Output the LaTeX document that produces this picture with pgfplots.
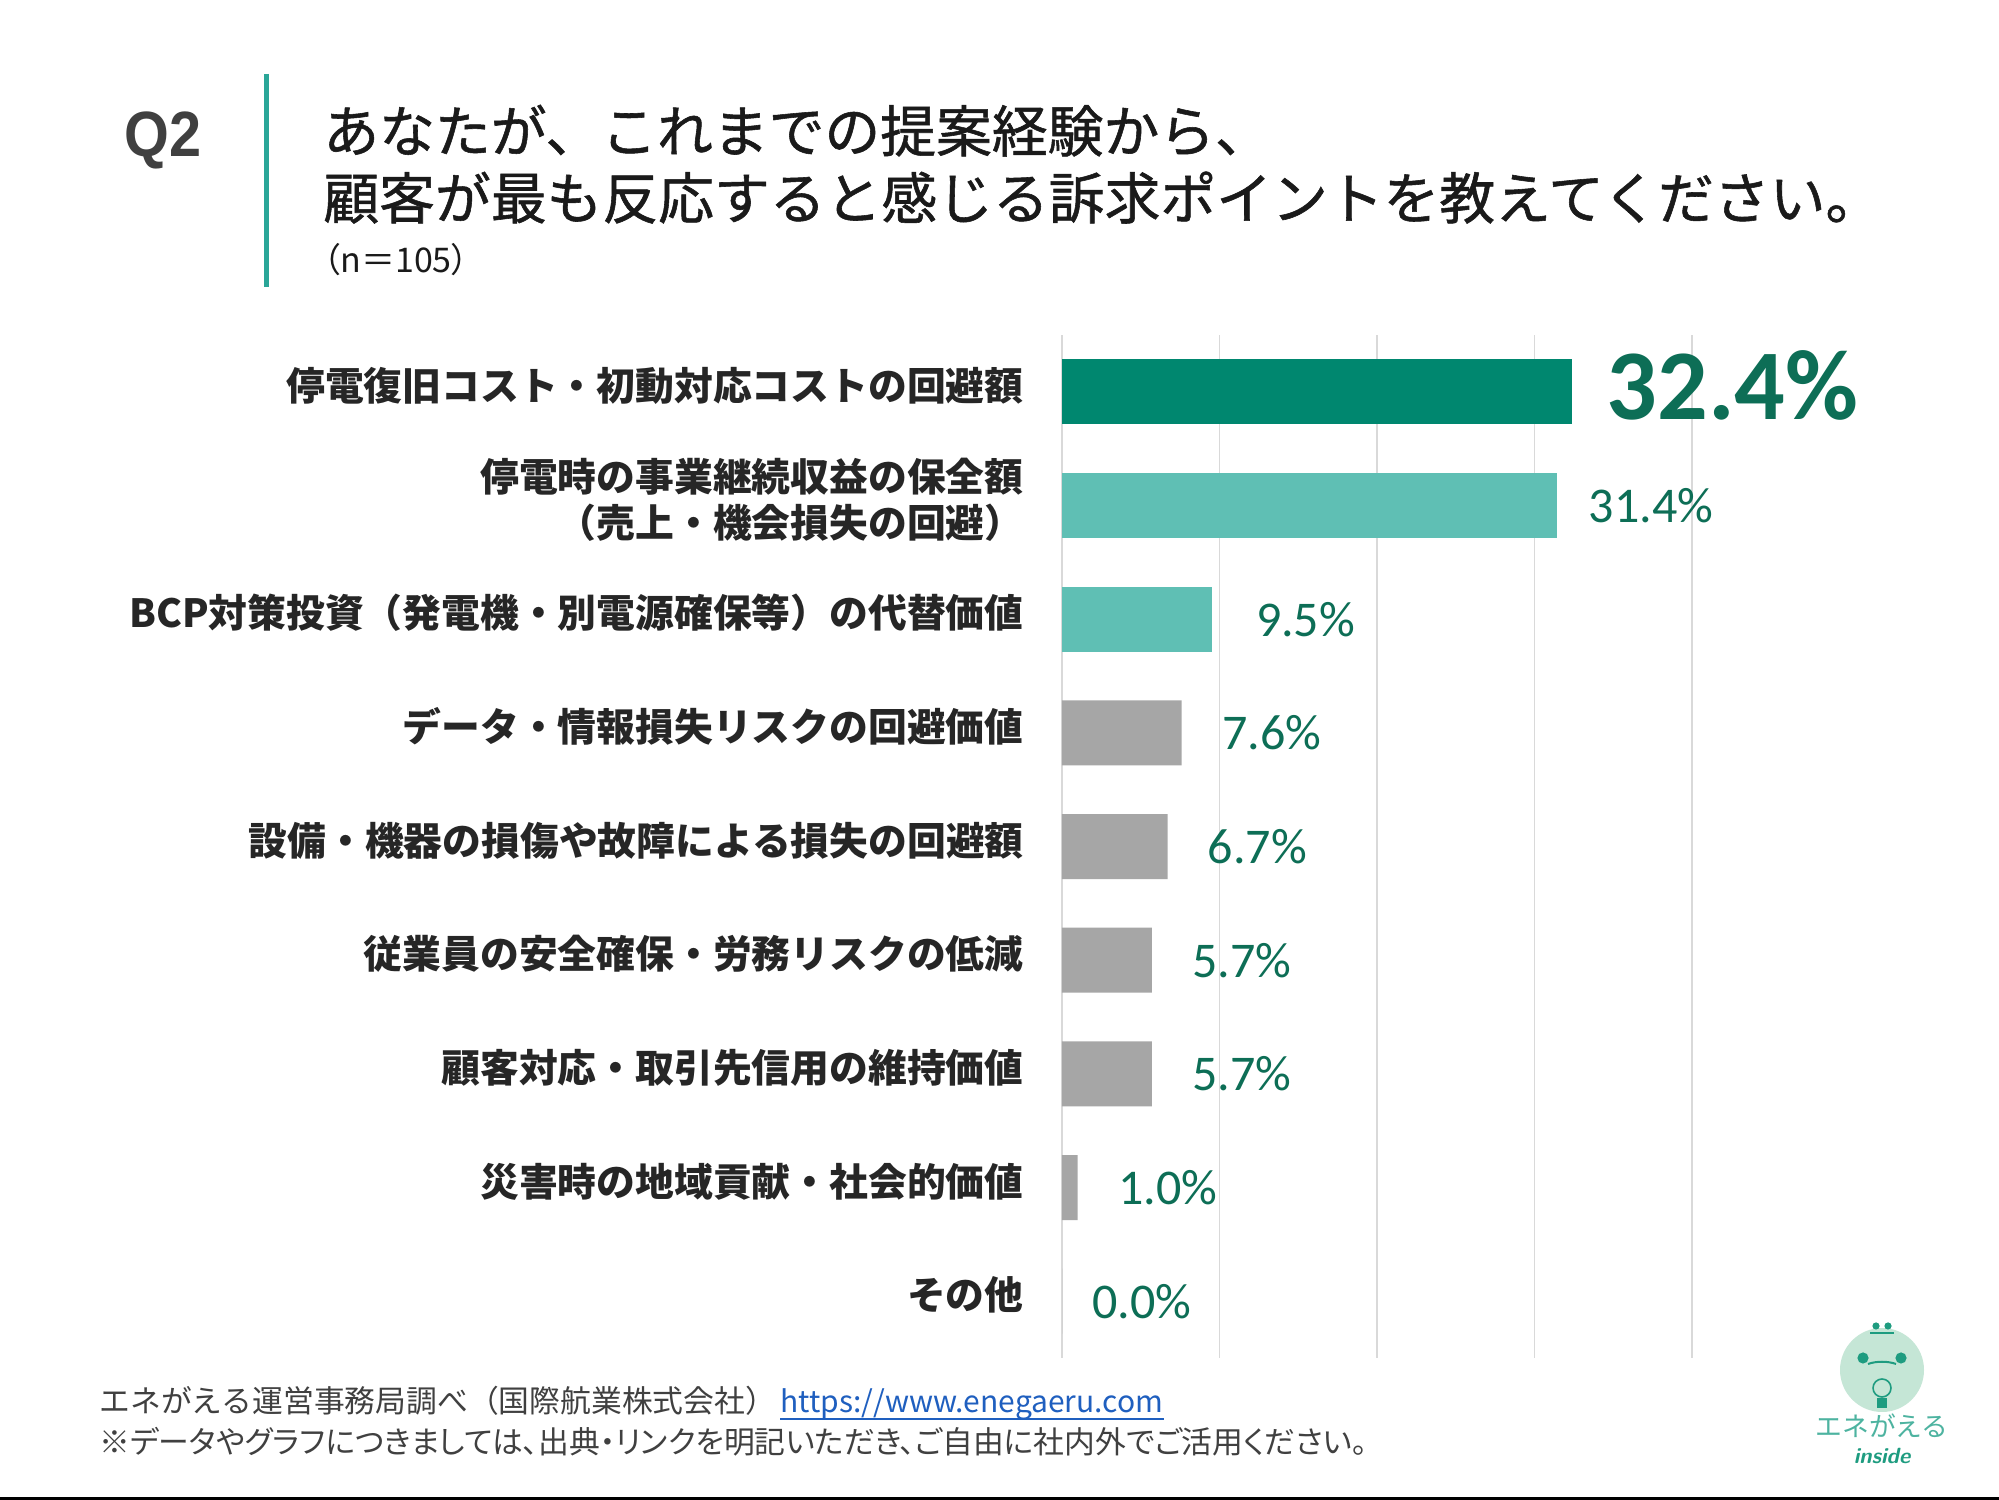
\documentclass[border=0pt]{standalone}
\usepackage{fontspec}
\setmainfont{Noto Sans CJK JP}
\newfontfamily\jpm{Noto Sans CJK JP}[FakeBold=1]
\newfontfamily\jpp{Noto Sans CJK JP}[RawFeature=+palt]
\newfontfamily\carlito{Carlito}
\newfontfamily\arial{Liberation Sans}
\usepackage{pgfplots}
\pgfplotsset{compat=1.18}
\definecolor{darkbar}{HTML}{00876F}
\definecolor{lightbar}{HTML}{5FBFB4}
\definecolor{graybar}{HTML}{A6A6A6}
\definecolor{labelgreen}{HTML}{0D6E56}
\definecolor{gridgray}{HTML}{D9D9D9}
\definecolor{tealline}{HTML}{2AA698}
\definecolor{titlecol}{HTML}{1A1A1A}
\definecolor{catcol}{HTML}{262626}
\definecolor{qgray}{HTML}{404040}
\definecolor{footcol}{HTML}{404040}
\definecolor{urlblue}{HTML}{1F5FBF}
\definecolor{logolight}{HTML}{C5E6D6}
\definecolor{logodark}{HTML}{1E9C80}
\definecolor{logotext}{HTML}{4DB3A0}
\begin{document}
\begin{tikzpicture}
\path[use as bounding box, fill=white] (0,0) rectangle (999.5pt,750pt);
\begin{axis}[
  at={(531pt,71pt)}, anchor=south west,
  width=315pt, height=511.5pt, scale only axis,
  xmin=0, xmax=40, ymin=-0.5, ymax=8.5, y dir=reverse,
  xtick={0,10,20,30,40}, xticklabels={},
  ytick={0,1,2,3,4,5,6,7,8},
  yticklabels={停電復旧コスト・初動対応コストの回避額,
    {停電時の事業継続収益の保全額\\（売上・機会損失の回避）},
    BCP対策投資（発電機・別電源確保等）の代替価値,
    データ・情報損失リスクの回避価値,
    設備・機器の損傷や故障による損失の回避額,
    従業員の安全確保・労務リスクの低減,
    顧客対応・取引先信用の維持価値,
    災害時の地域貢献・社会的価値,
    その他},
  yticklabel style={font=\bfseries\fontsize{19.4pt}{23pt}\selectfont, text=catcol, align=right, inner sep=0pt, anchor=east, xshift=-19pt, yshift=3pt},
  xmajorgrids, grid style={gridgray, line width=0.8pt},
  axis line style={draw=none}, major tick length=0pt,
  clip=false,
]
\addplot[xbar, bar shift=0pt, bar width=32.5pt, fill=darkbar, draw=none,
  point meta=explicit symbolic, nodes near coords,
  nodes near coords style={anchor=west, inner sep=0pt, xshift=17pt, yshift=3pt, font=\carlito\bfseries\fontsize{50pt}{50pt}\selectfont, text=labelgreen}]
  coordinates {(32.4,0) [32.4\%]};
\addplot[xbar, bar shift=0pt, bar width=32.5pt, fill=lightbar, draw=none,
  point meta=explicit symbolic, nodes near coords,
  nodes near coords style={anchor=west, inner sep=0pt, xshift=16pt, font=\carlito\fontsize{25pt}{25pt}\selectfont, text=labelgreen}]
  coordinates {(31.4,1) [31.4\%]};
\addplot[xbar, bar shift=0pt, bar width=32.5pt, fill=lightbar, draw=none,
  point meta=explicit symbolic, nodes near coords,
  nodes near coords style={anchor=west, inner sep=0pt, xshift=22pt, font=\carlito\fontsize{25pt}{25pt}\selectfont, text=labelgreen}]
  coordinates {(9.5,2) [9.5\%]};
\addplot[xbar, bar shift=0pt, bar width=32.5pt, fill=graybar, draw=none,
  point meta=explicit symbolic, nodes near coords,
  nodes near coords style={anchor=west, inner sep=0pt, xshift=20pt, font=\carlito\fontsize{25pt}{25pt}\selectfont, text=labelgreen}]
  coordinates {(7.6,3) [7.6\%] (6.7,4) [6.7\%] (5.7,5) [5.7\%] (5.7,6) [5.7\%] (1.0,7) [1.0\%]};
\addplot[xbar, bar shift=0pt, bar width=32.5pt, fill=graybar, draw=none,
  point meta=explicit symbolic, nodes near coords,
  nodes near coords style={anchor=west, inner sep=0pt, xshift=15pt, font=\carlito\fontsize{25pt}{25pt}\selectfont, text=labelgreen}]
  coordinates {(0.0,8) [0.0\%]};
\end{axis}
% header
\node[anchor=base west, inner sep=0pt, font=\arial\bfseries\fontsize{32pt}{32pt}\selectfont, text=qgray] at (62pt,671.5pt) {\scalebox{0.9}[1]{Q2}};
\draw[tealline, line width=2.5pt] (133pt,713pt) -- (133pt,606.5pt);
\node[anchor=base west, inner sep=0pt, font=\jpm\fontsize{27.9pt}{27.9pt}\selectfont, text=titlecol] at (161.5pt,674pt) {あなたが、これまでの提案経験から、};
\node[anchor=base west, inner sep=0pt, font=\jpm\fontsize{27.9pt}{27.9pt}\selectfont, text=titlecol] at (161.5pt,640.5pt) {顧客が最も反応すると感じる訴求ポイントを教えてください。};
\node[anchor=base west, inner sep=0pt, font=\jpp\fontsize{17pt}{17pt}\selectfont, text=titlecol] at (161.5pt,613.75pt) {（n＝105）};
% footer
\node[anchor=base west, inner sep=0pt, font=\fontsize{15.4pt}{15.4pt}\selectfont, text=footcol] at (49.5pt,43.5pt) {エネがえる運営事務局調べ（国際航業株式会社）};
\node[anchor=base west, inner sep=0pt, font=\fontsize{15pt}{15pt}\selectfont, text=urlblue] (url) at (390pt,43.5pt) {https://www.enegaeru.com};
\draw[urlblue, line width=0.8pt] ([yshift=-3pt]url.base west) -- ([yshift=-3pt]url.base east);
\node[anchor=base west, inner sep=0pt, font=\jpp\fontsize{15.4pt}{15.4pt}\selectfont, text=footcol] at (49.5pt,23pt) {※データやグラフにつきましては、出典・リンクを明記いただき、ご自由に社内外でご活用ください。};
% logo
\fill[logolight] (941pt,65pt) circle (21pt);
\fill[logodark] (931.5pt,71pt) circle (2.8pt);
\fill[logodark] (950.5pt,71pt) circle (2.8pt);
\fill[logodark] (938pt,87pt) circle (1.8pt);
\fill[logodark] (944pt,87pt) circle (1.8pt);
\draw[logodark, line width=1.2pt] (935pt,83.5pt) -- (947pt,83.5pt);
\draw[logodark, line width=1pt] (934pt,68pt) .. controls (938pt,69.5pt) and (944pt,69.5pt) .. (948pt,68pt);
\draw[logodark, line width=0.8pt] (941pt,56pt) circle (4.5pt);
\fill[logodark] (938.5pt,46pt) rectangle (943.5pt,51pt);
\node[inner sep=0pt, font=\fontsize{13.4pt}{13.4pt}\selectfont, text=logotext] at (941pt,37pt) {エネがえる};
\node[inner sep=0pt, font=\sffamily\bfseries\itshape\fontsize{11pt}{11pt}\selectfont, text=logodark] at (941pt,22pt) {inside};
% bottom rule
\draw[black, line width=1.5pt] (0,0.75pt) -- (999.5pt,0.75pt);
\end{tikzpicture}
\end{document}
